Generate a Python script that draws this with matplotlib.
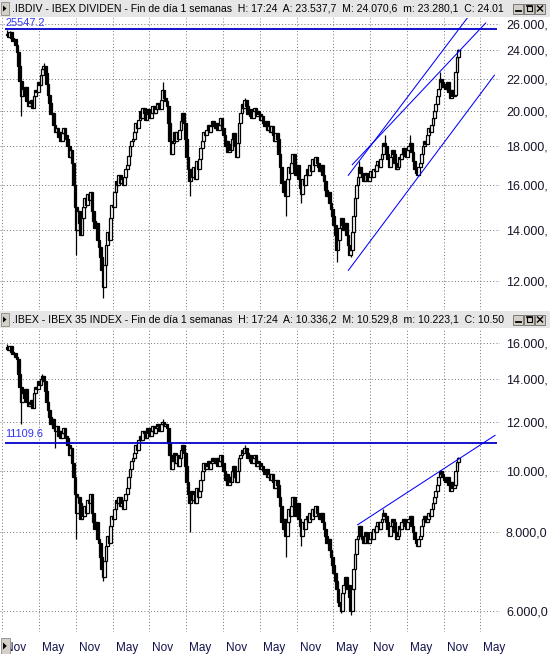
import numpy as np
import matplotlib
matplotlib.use("Agg")
import matplotlib.pyplot as plt
from matplotlib.patches import Rectangle, Polygon
from matplotlib.lines import Line2D
from matplotlib.ticker import NullLocator
from matplotlib.transforms import ScaledTranslation

plt.rcParams['font.family'] = ['Liberation Sans', 'DejaVu Sans']

# ---------------- data (weekly closes) ----------------
ibdiv_close = [
    25200, 25000, 25350, 24900, 24700, 24800, 24400, 23900, 22900, 21900,
    20900, 21400, 21000, 21500, 20600, 20300, 20500, 20700, 20200, 20900,
    21300, 21200, 21800, 21600, 22300, 22700, 22900, 22400, 21700, 21000,
    20500, 19800, 19900, 19200, 18800, 19000, 18500, 18800, 18300, 18700,
    19000, 18600, 18400, 18000, 17400, 17800, 17100, 16000, 15000, 14000,
    14800, 14300, 13800, 14500, 15000, 15400, 15100, 15600, 15300, 15700,
    14800, 14400, 14100, 14300, 13600, 13300, 12900, 12400, 11800, 12600,
    13400, 13900, 13600, 14500, 15100, 15000, 15700, 16200, 16000, 16500,
    16100, 16300, 16000, 16400, 16800, 17000, 17500, 18000, 18300, 18400,
    18800, 19300, 19000, 19500, 20000, 19600, 20200, 19900, 19500, 20100,
    19800, 19600, 19900, 20300, 19900, 20100, 20500, 20400, 20100, 20700,
    21300, 20800, 20600, 20300, 19300, 18300, 17600, 18200, 18800, 18300,
    18800, 18400, 18900, 19400, 19900, 19300, 18400, 17400, 16800, 16200,
    16800, 16400, 16900, 16300, 17200, 16800, 17300, 17900, 18300, 18800,
    18600, 18900, 19200, 18800, 19100, 19400, 19200, 19000, 19300, 18900,
    19200, 19600, 19000, 18600, 18000, 18300, 17700, 18100, 17800, 18400,
    18700, 18000, 17400, 18200, 19300, 19900, 20400, 20200, 20700, 20300,
    19800, 20100, 19700, 19600, 20000, 20200, 19700, 20000, 19800, 19500,
    19700, 19300, 19100, 19400, 18900, 19100, 18800, 19100, 18600, 18300,
    18700, 18400, 17600, 16900, 16100, 15700, 16200, 15500, 16300, 16900,
    16600, 17100, 17600, 16900, 16500, 17000, 16300, 15900, 15600, 16300,
    16000, 16500, 16800, 16500, 17000, 16700, 17300, 17000, 17400, 17100,
    16900, 16700, 17000, 16500, 16200, 15800, 15500, 15700, 15200, 14900,
    14600, 14200, 13800, 13200, 13600, 14100, 14500, 14200, 14000, 14300,
    13800, 13400, 13000, 13200, 13900, 14600, 15400, 16000, 16400, 16900,
    16600, 16400, 16200, 16600, 16500, 16200, 16400, 16700, 16400, 16800,
    16700, 17000, 17200, 16900, 17300, 17600, 18200, 18000, 17600, 17300,
    16900, 17400, 17800, 17600, 17100, 16800, 16900, 17400, 17300, 17600,
    17900, 17500, 17400, 17800, 18000, 18200, 17700, 17200, 16800, 16600,
    16500, 16900, 17100, 17600, 18000, 18300, 18100, 18600, 19000, 18800,
    19200, 19600, 20000, 20400, 20900, 21400, 22000, 21800, 21500, 21700,
    21400, 21800, 21200, 20800, 21300, 20900, 21000, 22500, 23537.7, 24015.0,
]
ibdiv_first_open = 25100
ibdiv_high_wicks = {0: 25500, 2: 25450, 26: 23100, 110: 21800, 168: 20800,
                    249: 17200, 267: 18600, 285: 18600, 306: 22500, 319: 24070.6}
ibdiv_low_wicks = {10: 19700, 49: 13000, 68: 11400, 129: 15500, 197: 14600,
                   208: 15200, 233: 12700, 243: 12900, 319: 23280.1}

ibex_close = [
    15750, 15600, 15850, 15500, 15350, 15400, 15200, 15100, 14300, 13600,
    12900, 13300, 13100, 13500, 12900, 12700, 12800, 13000, 12600, 13300,
    13600, 13500, 13900, 13700, 14000, 14200, 13900, 13400, 12900, 12500,
    12200, 11900, 12100, 11700, 11600, 11800, 11400, 11600, 11300, 11500,
    11700, 11400, 11300, 11000, 10600, 10900, 10300, 9800, 9200, 8600,
    9100, 8900, 8400, 8700, 8500, 8800, 8600, 9000, 8900, 9200,
    8600, 8300, 8100, 8300, 7800, 7700, 7300, 7000, 6800, 7200,
    7600, 7900, 7700, 8200, 8500, 8400, 8700, 9000, 8900, 9100,
    8800, 8900, 8700, 9000, 9200, 9400, 9800, 10100, 10400, 10500,
    10700, 11000, 10800, 11200, 11400, 11200, 11600, 11500, 11300, 11700,
    11500, 11400, 11600, 11800, 11500, 11700, 11900, 11800, 11600, 11900,
    12000, 11800, 11900, 11700, 11100, 10600, 10100, 10400, 10700, 10300,
    10600, 10200, 10500, 10800, 11000, 10700, 10200, 9600, 9200, 8900,
    9300, 9000, 9200, 8900, 9400, 9100, 9300, 9700, 10000, 10300,
    10100, 10200, 10400, 10100, 10300, 10500, 10400, 10300, 10500, 10200,
    10400, 10600, 10300, 10000, 9700, 9900, 9500, 9800, 9600, 10000,
    10200, 9800, 9600, 10000, 10500, 10600, 10800, 10700, 10900, 10700,
    10500, 10600, 10400, 10300, 10500, 10600, 10200, 10400, 10300, 10100,
    10200, 10000, 9900, 10100, 9800, 9900, 9700, 9900, 9600, 9400,
    9700, 9500, 9100, 8800, 8300, 8100, 8400, 7900, 8300, 8700,
    8500, 8800, 9100, 8700, 8500, 8900, 8400, 8200, 7900, 8300,
    8100, 8400, 8500, 8300, 8600, 8400, 8700, 8500, 8800, 8600,
    8500, 8400, 8600, 8300, 8100, 7900, 7700, 7800, 7500, 7300,
    7100, 6900, 6700, 6500, 6200, 6100, 6000, 6400, 6600, 6800,
    6500, 6600, 6300, 6000, 6500, 7000, 7400, 7800, 7900, 8200,
    7900, 7800, 7700, 8000, 7900, 7700, 7800, 8000, 7800, 8100,
    8000, 8200, 8300, 8100, 8300, 8400, 8600, 8500, 8300, 8100,
    7900, 8200, 8400, 8300, 8000, 7800, 7900, 8200, 8100, 8300,
    8400, 8200, 8100, 8300, 8400, 8500, 8200, 8000, 7800, 7700,
    7600, 7800, 7900, 8200, 8400, 8500, 8300, 8400, 8600, 8500,
    8700, 8900, 9100, 9300, 9500, 9800, 10000, 9900, 9800, 9700,
    9600, 9800, 9500, 9300, 9600, 9400, 9500, 10000, 10336.2, 10502.0,
]
ibex_first_open = 15650
ibex_high_wicks = {0: 15950, 25: 14300, 110: 12100, 168: 11000, 266: 8700,
                   306: 10050, 319: 10529.8}
ibex_low_wicks = {10: 11900, 34: 10900, 49: 7800, 68: 6700, 129: 8000,
                  197: 7300, 208: 7600, 236: 5950, 243: 5900, 319: 10223.1}

ibdiv_level = 25547.2
ibex_level = 11109.6
ibdiv_chan_a = [(241.2, 16493), (325.3, 26440)]
ibdiv_chan_b = [(244.0, 17027), (338.3, 26047)]
ibdiv_chan_low = [(241.2, 12400), (344.4, 22264)]
ibex_trend = [(247.8, 8222), (344.9, 11409)]

ibdiv_ticks = [12000, 14000, 16000, 18000, 20000, 22000, 24000, 26000]
ibex_ticks = [6000, 8000, 10000, 12000, 14000, 16000]
month_labels = ['Nov', 'May'] * 7

ibdiv_title = (".IBDIV - IBEX DIVIDEN - Fin de día 1 semanas  H: 17:24  "
               "A: 23.537,7  M: 24.070,6  m: 23.280,1  C: 24.01")
ibex_title = (".IBEX - IBEX 35 INDEX - Fin de día 1 semanas  H: 17:24  "
              "A: 10.336,2  M: 10.529,8  m: 10.223,1  C: 10.50")

# ---------------- layout ----------------
W, H = 550, 654
fig = plt.figure(figsize=(W / 100, H / 100), dpi=100)
fig.patch.set_facecolor('white')

PX_PER_BAR = 1.415
X0 = 7.0
PLOT_RIGHT = 500
XLIM = (-X0 / PX_PER_BAR, (PLOT_RIGHT - X0) / PX_PER_BAR)
GRID_FIRST, GRID_STEP = -3.4, 26


def ax_px(left, top, right, bottom):
    return fig.add_axes([left / W, 1 - bottom / H, (right - left) / W, (bottom - top) / H])


def fig_rect(x, y, w, h, **kw):
    r = Rectangle((x / W, 1 - (y + h) / H), w / W, h / H, transform=fig.transFigure, **kw)
    fig.add_artist(r)


def fig_line(xs, ys, **kw):
    fig.add_artist(Line2D([x / W for x in xs], [1 - y / H for y in ys],
                          transform=fig.transFigure, **kw))


def price_label(v):
    # price-axis label as shown: thousands '.', decimals ','; the panel edge
    # leaves only seven characters visible
    s = f"{v:,.2f}".replace(',', 'X').replace('.', ',').replace('X', '.')
    return s[:7]


def candles(ax, closes, first_open, hi_w, lo_w):
    c = np.asarray(closes, float)
    o = np.r_[first_open, c[:-1]]
    h = np.maximum(o, c)
    l = np.minimum(o, c)
    for k, v in hi_w.items():
        h[k] = max(h[k], v)
    for k, v in lo_w.items():
        l[k] = min(l[k], v)
    x = np.arange(len(c))
    ax.vlines(x, l, h, color='black', lw=0.9, zorder=2)
    up = c >= o
    fc = ['white' if u else 'black' for u in up]
    ax.bar(x, c - o, bottom=o, width=1.95, color=fc, edgecolor='black',
           linewidth=0.9, zorder=3)


def setup_axes(ax, ylim, ticks, show_x):
    ax.set_yscale('log')
    ax.set_xlim(*XLIM)
    ax.set_ylim(*ylim)
    for s in ax.spines.values():
        s.set_visible(False)
    ax.set_yticks(ticks)
    ax.set_yticklabels([price_label(t) for t in ticks])
    ax.yaxis.set_minor_locator(NullLocator())
    ax.yaxis.tick_right()
    ax.tick_params(axis='y', length=0, pad=4.3, labelsize=9.0, labelcolor='#141428')
    gx = [GRID_FIRST + GRID_STEP * k for k in range(len(month_labels))]
    ax.set_xticks(gx)
    ax.xaxis.set_minor_locator(NullLocator())
    if show_x:
        ax.set_xticklabels(month_labels)
        ax.tick_params(axis='x', length=0, pad=7.0, labelsize=8.5, labelcolor='#12124a')
        off = ScaledTranslation(3 / 100, 0, fig.dpi_scale_trans)
        for lbl in ax.get_xticklabels():
            lbl.set_horizontalalignment('left')
            lbl.set_transform(lbl.get_transform() + off)
    else:
        ax.set_xticklabels([])
        ax.tick_params(axis='x', length=0)
    ax.grid(True, which='major', color='#7a7a7a', lw=0.72, linestyle=(0, (1, 2.2)))
    ax.set_axisbelow(True)
    ax.patch.set_alpha(0)


# top panel
ax1 = ax_px(0, 18, PLOT_RIGHT, 310)
setup_axes(ax1, (11012, 26440), ibdiv_ticks, False)
candles(ax1, ibdiv_close, ibdiv_first_open, ibdiv_high_wicks, ibdiv_low_wicks)
ax1.hlines(ibdiv_level, -1.4, 346.3, color='#0000c8', lw=1.3, zorder=4)
for seg in (ibdiv_chan_a, ibdiv_chan_b, ibdiv_chan_low):
    ax1.plot([seg[0][0], seg[1][0]], [seg[0][1], seg[1][1]], color='#0000ff', lw=0.75, zorder=4)

# bottom panel
ax2 = ax_px(0, 328, PLOT_RIGHT, 632)
setup_axes(ax2, (5552, 16904), ibex_ticks, True)
candles(ax2, ibex_close, ibex_first_open, ibex_high_wicks, ibex_low_wicks)
ax2.hlines(ibex_level, -1.4, 346.3, color='#0000c8', lw=1.3, zorder=4)
ax2.plot([ibex_trend[0][0], ibex_trend[1][0]], [ibex_trend[0][1], ibex_trend[1][1]],
         color='#0000ff', lw=0.75, zorder=4)

# level labels
fig.text(5 / W, 1 - 23 / H, f"{ibdiv_level:.1f}", color='#3434f0', fontsize=7.9,
         va='center', ha='left')
fig.text(5 / W, 1 - 434 / H, f"{ibex_level:.1f}", color='#3434f0', fontsize=7.9,
         va='center', ha='left')


# title bars
def title_bar(y0, text):
    bg = '#e6e6e6'
    fig_rect(0, y0, W, 17, facecolor=bg, edgecolor='none', zorder=1)
    fig_rect(0.5, y0 + 2, 8.5, 13, facecolor='#d4d0c8', edgecolor='#8a8a8a', lw=0.6, zorder=2)
    fig.add_artist(Polygon([(3 / W, 1 - (y0 + 5.5) / H), (3 / W, 1 - (y0 + 11.5) / H),
                            (6.5 / W, 1 - (y0 + 8.5) / H)], closed=True,
                           transform=fig.transFigure, facecolor='black', edgecolor='none', zorder=3))
    fig.text(12 / W, 1 - (y0 + 8.5) / H, text, fontsize=7.55, va='center', ha='left',
             color='black', zorder=3)
    for bx in (513, 524, 535):
        fig_rect(bx, y0 + 3.5, 10, 10, facecolor='#d4d0c8', edgecolor='#6a6a6a', lw=0.6, zorder=5)
    fig_line([515.5, 520.5], [y0 + 11, y0 + 11], color='black', lw=1.3, zorder=6)
    fig_rect(526.5, y0 + 5.5, 5.5, 5.5, facecolor='none', edgecolor='black', lw=0.8, zorder=6)
    fig_line([526.5, 532], [y0 + 5.8, y0 + 5.8], color='black', lw=1.2, zorder=6)
    fig_line([537.5, 542.5], [y0 + 6, y0 + 11], color='black', lw=1.0, zorder=6)
    fig_line([537.5, 542.5], [y0 + 11, y0 + 6], color='black', lw=1.0, zorder=6)


title_bar(0, ibdiv_title)
title_bar(311, ibex_title)

# bottom-left scroll button
fig_rect(0.5, 638, 9, 16, facecolor='#d4d0c8', edgecolor='#8a8a8a', lw=0.6, zorder=5)
fig.add_artist(Polygon([(3 / W, 1 - 642.5 / H), (3 / W, 1 - 649.5 / H), (6.8 / W, 1 - 646 / H)],
                       closed=True, transform=fig.transFigure, facecolor='black',
                       edgecolor='none', zorder=6))

fig.savefig('out.png', dpi=100)
